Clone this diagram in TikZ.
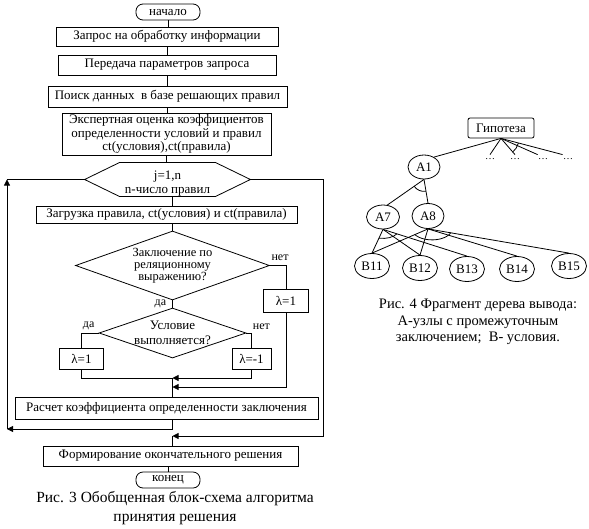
\documentclass[tikz,border=0pt]{standalone}
\usepackage{fontspec}
\setmainfont{Liberation Serif}
\usetikzlibrary{arrows.meta,shapes.geometric,calc}

\begin{document}
\begin{tikzpicture}[x=1pt,y=-1pt,line width=0.8pt,
  font=\fontsize{13}{13.5}\selectfont,
  blk/.style={draw,rectangle,inner sep=1pt,align=center},
  term/.style={draw,rectangle,rounded corners=7pt,minimum width=64pt,
    minimum height=16pt,inner sep=0pt},
  cond/.style={draw,diamond,inner sep=0pt,align=center},
  lam/.style={draw,rectangle,inner sep=1pt},
  vert/.style={draw,ellipse,inner sep=0pt},
  tip/.style={-{Triangle[length=6pt,width=6pt]}},
  lbl/.style={font=\fontsize{12}{13}\selectfont,inner sep=1pt}]
  \useasboundingbox (0,0) rectangle (589,528);

  % Fig. 3: flowchart
  \node[term] (start) at (168,12) {начало};
  \node[blk,minimum width=222pt,minimum height=19pt] (ask) at (167,36.5)
    {Запрос на обработку информации};
  \node[blk,minimum width=218pt,minimum height=20pt] (send) at (167,65)
    {Передача параметров запроса};
  \node[blk,minimum width=239pt,minimum height=21pt] (search) at (167.5,96.5)
    {Поиск данных\ \ в базе решающих правил};
  \node[blk,minimum width=209pt,minimum height=42pt] (expert) at (166.5,134)
    {Экспертная оценка коэффициентов\\определенности условий и правил\\ct(условия),ct(правила)};
  \node[inner sep=0pt,minimum width=165pt,minimum height=31pt,align=center] (loop)
    at (167.5,179.5) {\rule{0pt}{17pt}j=1,n\\n-число правил};
  \draw (loop.west) -- ([xshift=35pt]loop.north west) -- ([xshift=-35pt]loop.north east)
    -- (loop.east) -- ([xshift=-35pt]loop.south east) -- ([xshift=35pt]loop.south west) -- cycle;
  \node[blk,minimum width=261pt,minimum height=17pt] (load) at (166.5,214.5)
    {Загрузка правила, ct(условия) и ct(правила)};
  \node[cond,minimum width=194pt,minimum height=69pt,aspect=2.8,
    font=\fontsize{12.5}{12}\selectfont] (cond1) at (172.5,265.5)
    {Заключение по\\реляционному\\выражению?};
  \node[cond,minimum width=147pt,minimum height=50pt,aspect=2.94,
    font=\fontsize{13}{14.5}\selectfont] (cond2) at (172.5,333)
    {Условие\\выполняется?};
  \node[lam,minimum width=45pt,minimum height=23pt] (lam0) at (286,300.5) {λ=1};
  \node[lam,minimum width=44pt,minimum height=21pt] (lam1) at (81.5,358.5) {λ=1};
  \node[lam,minimum width=39pt,minimum height=21pt] (lam2) at (251.5,358.5) {λ=-1};
  \node[blk,minimum width=303pt,minimum height=22pt] (calc) at (166.5,408)
    {Расчет коэффициента определенности заключения};
  \node[blk,minimum width=255pt,minimum height=20pt] (final) at (170.5,456)
    {Формирование окончательного решения};
  \node[term] (finish) at (168,480) {конец};

  \coordinate (merge1) at (172.5,378);
  \coordinate (merge2) at (172.5,387);
  \coordinate (back1) at (7,429);
  \coordinate (exitR) at (323,436);
  \coordinate (join) at (172.5,436);

  \draw (start.south) -- (start.south |- ask.north);
  \draw (ask.south) -- (ask.south |- send.north);
  \draw (send.south) -- (send.south |- search.north);
  \draw (search.south) -- (search.south |- expert.north);
  \draw (expert.south) -- (expert.south |- loop.north);
  \draw (loop.south -| cond1) -- (load.north -| cond1);
  \draw (load.south -| cond1) -- (cond1.north);
  \draw (cond1.south) -- node[lbl,left=5pt]{да} (cond2.north);
  \draw (cond1.east) -| node[lbl,pos=0.5,above,xshift=-6pt,yshift=3pt]{нет} (lam0.north);
  \draw (cond2.west) -| node[lbl,pos=0.5,anchor=south west,yshift=2pt]{да} (lam1.north);
  \draw (cond2.east) -| node[lbl,pos=0.5,anchor=south west,yshift=2pt]{нет} (lam2.north);
  \draw (lam1.south) |- (merge1);
  \draw[tip] (lam2.south) |- (merge1);
  \draw[tip] (lam0.south) |- (merge2);
  \draw (merge1) -- (merge1 |- calc.north);

  % loop back and exit
  \draw[tip] (calc.south -| merge1) |- (back1);
  \draw[tip] (back1) -- (back1 |- loop.west);
  \draw (back1 |- loop.west) -- (loop.west);
  \draw[tip] (loop.east) -| (exitR) -- (join);
  \draw (join) -- (join |- final.north);
  \draw (final.south -| finish) -- (finish.north);

  \node[font=\fontsize{15.5}{18.5}\selectfont,align=center] (cap3) at (175,508)
    {Рис. 3 Обобщенная блок-схема алгоритма\\принятия решения};

  % Fig. 4: inference tree
  \node[draw,rounded corners=2pt,minimum width=66pt,minimum height=20pt,inner sep=0pt]
    (hyp) at (501,128) {Гипотеза};
  \node[vert,minimum width=32pt,minimum height=24pt] (a1) at (424,167) {A1};
  \node[vert,minimum width=33pt,minimum height=24pt] (a7) at (383,217) {A7};
  \node[vert,minimum width=32pt,minimum height=25pt] (a8) at (428,216) {A8};
  \foreach \name/\x/\y in {11/372/266,12/420/268,13/467/269,14/517/269,15/569/266}
    \node[vert,minimum width=35pt,minimum height=25pt] (b\name) at (\x,\y) {B\name};
  \foreach \x [count=\i] in {490,515,543,568}
    \node[font=\fontsize{10}{10}\selectfont,inner sep=0pt,text height=4pt,text depth=0pt]
      (dots\i) at (\x,157) {…};

  \draw (hyp.south) -- (a1.45);
  \draw (hyp.south) -- (dots1.north);
  \draw (hyp.south) -- (dots2.north);
  \draw (hyp.south) -- (dots3.north west);
  \draw (hyp.south) -- (dots4.north west);
  \draw ($(hyp.south)+(15:18)$) arc[start angle=15,end angle=50,radius=18];

  \draw (a1.south) -- (a7.70);
  \draw (a1.south) -- (a8.north);
  \draw ($(a1.south)+(81:12)$) arc[start angle=81,end angle=145,radius=12];

  \foreach \leaf in {b11,b12,b13}
    \draw (a7.south) -- (\leaf.north);
  \foreach \leaf in {b11,b12,b14,b15}
    \draw (a8.south) -- (\leaf.north);
  \draw ($(a7.south)+(30:16 and 9)$) arc[start angle=30,end angle=104,x radius=16,y radius=9];
  \draw ($(a8.south)+(4,0)+(20:20 and 11)$) arc[start angle=20,end angle=150,x radius=20,y radius=11];

  \node[font=\fontsize{14.5}{16.7}\selectfont,align=center] (cap4) at (478,322)
    {Рис. 4 Фрагмент дерева вывода:\\А-узлы с промежуточным\\заключением;\ \ В- условия.};
\end{tikzpicture}
\end{document}
